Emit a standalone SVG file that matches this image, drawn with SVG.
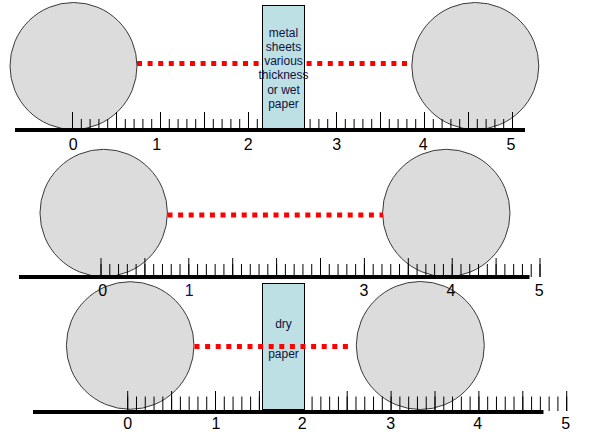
<svg xmlns="http://www.w3.org/2000/svg" width="590" height="438" viewBox="0 0 590 438">
<style>
.ball{fill:#dcdcdc;stroke:#3a3a3a;stroke-width:1}
.dots{stroke:#ff0000;stroke-width:5;stroke-dasharray:5 5.6;fill:none}
.base{stroke:#000;stroke-width:4}
.tick{stroke:#000;fill:none}
.num{font-family:"Liberation Sans",Arial,sans-serif;font-size:16px;fill:#000;text-anchor:middle}
.box{fill:#bde0e4;stroke:#000;stroke-width:1}
.boxtxt{font-family:"Liberation Sans",Arial,sans-serif;font-size:12px;fill:#12123c;text-anchor:middle}
</style>
<rect width="590" height="438" fill="#fff"/>
<g id="balls">
<circle class="ball" cx="73.5" cy="66" r="63.5"/>
<circle class="ball" cx="475.3" cy="66" r="63.5"/>
<circle class="ball" cx="103.7" cy="213" r="63.7"/>
<circle class="ball" cx="446.3" cy="213" r="63.7"/>
<circle class="ball" cx="130.2" cy="345.5" r="63.8"/>
<circle class="ball" cx="420.3" cy="345.5" r="64"/>
</g>
<g id="gaps-top-middle">
<line class="dots" x1="137" y1="63.5" x2="411.5" y2="63.5"/>
<line class="dots" x1="167.5" y1="215" x2="383" y2="215"/>
</g>
<g id="ruler-top">
<line class="base" x1="15" y1="130" x2="525" y2="130"/>
<line class="tick" x1="72" y1="124.5" x2="513" y2="124.5" stroke-width="11" stroke-dasharray="1 7.8"/>
<line class="tick" x1="72" y1="121" x2="513" y2="121" stroke-width="18" stroke-dasharray="1 43"/>
</g>
<g id="ruler-middle">
<line class="base" x1="19" y1="277" x2="529.5" y2="277"/>
<line class="tick" x1="100.5" y1="270.5" x2="540.5" y2="270.5" stroke-width="13" stroke-dasharray="1 7.78"/>
<line class="tick" x1="100.5" y1="267.5" x2="540.5" y2="267.5" stroke-width="19" stroke-dasharray="1 42.9"/>
</g>
<g id="ruler-bottom">
<line class="base" x1="33" y1="412" x2="543.5" y2="412"/>
<line class="tick" x1="127.2" y1="403.8" x2="567.2" y2="403.8" stroke-width="14.4" stroke-dasharray="1 7.78"/>
<line class="tick" x1="127.2" y1="401" x2="567.2" y2="401" stroke-width="20" stroke-dasharray="1 42.9"/>
</g>
<g id="labels-top">
<text class="num" x="73.3" y="150">0</text>
<text class="num" x="156.7" y="150">1</text>
<text class="num" x="248.3" y="150">2</text>
<text class="num" x="336.7" y="150">3</text>
<text class="num" x="423.3" y="150">4</text>
<text class="num" x="511" y="150">5</text>
</g>
<g id="labels-middle">
<text class="num" x="102.7" y="295.5">0</text>
<text class="num" x="189.3" y="295.5" style="fill:#0a0a8c">1</text>
<text class="num" x="364" y="295.5">3</text>
<text class="num" x="451" y="295.5">4</text>
<text class="num" x="539.3" y="295.5">5</text>
</g>
<g id="labels-bottom">
<text class="num" x="127.7" y="428.5">0</text>
<text class="num" x="216" y="428.5">1</text>
<text class="num" x="302.3" y="428.5">2</text>
<text class="num" x="390.7" y="428.5">3</text>
<text class="num" x="477.7" y="428.5">4</text>
<text class="num" x="565.7" y="428.5">5</text>
</g>
<g id="sheet-top">
<rect class="box" x="262.5" y="5.5" width="42" height="123"/>
<text class="boxtxt" x="283.5" y="36.5">metal</text>
<text class="boxtxt" x="283.5" y="50.8">sheets</text>
<text class="boxtxt" x="283.5" y="65.1">various</text>
<text class="boxtxt" x="283.5" y="79.4">thickness</text>
<text class="boxtxt" x="283.5" y="93.7">or wet</text>
<text class="boxtxt" x="283.5" y="108">paper</text>
</g>
<g id="sheet-bottom">
<rect class="box" x="262.5" y="283.5" width="42" height="126"/>
<text class="boxtxt" x="283.5" y="327.7">dry</text>
<text class="boxtxt" x="283.5" y="357.5">paper</text>
</g>
<g id="gap-bottom">
<line class="dots" x1="194.5" y1="346.5" x2="349.5" y2="346.5"/>
</g>
</svg>
